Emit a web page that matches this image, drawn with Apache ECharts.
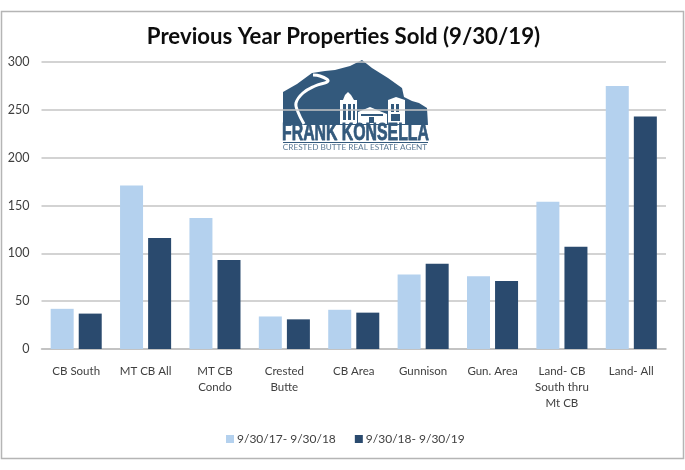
<!DOCTYPE html>
<html><head><meta charset="utf-8">
<style>html,body{margin:0;padding:0;background:#fff}#c{width:685px;height:470px}</style>
<script src="https://cdn.jsdelivr.net/npm/echarts@6/dist/echarts.min.js"></script>
</head><body><div id="c"></div>
<script>
const categories = ['CB South','MT CB All','MT CB\nCondo','Crested\nButte','CB Area','Gunnison','Gun. Area','Land- CB\nSouth thru\nMt CB','Land- All'];
const seriesNames = ['9/30/17- 9/30/18','9/30/18- 9/30/19'];
const prevYear = [42,171,137,34,41,78,76,154,275];
const currYear = [37,116,93,31,38,89,71,107,243];
const yTicks = {min:0,max:300,interval:50};
const titleText = 'Previous Year Properties Sold (9/30/19)';
const logoName = 'FRANK KONSELLA';
const logoTag = 'CRESTED BUTTE REAL ESTATE AGENT';
const navy = '#33597c';
const chart = echarts.init(document.getElementById('c'),null,{renderer:'canvas'});
const font='Lato';
chart.setOption({
  animation:false,
  backgroundColor:'#fff',
  textStyle:{fontFamily:font},
  title:{text:titleText,left:338.5,top:21,textAlign:'center',textStyle:{fontFamily:font,fontSize:22.2,fontWeight:'bold',color:'#0d0d0d'}},
  grid:{left:41.5,right:19,top:62,bottom:121},
  legend:{bottom:20,left:221,itemWidth:8,itemHeight:8,itemGap:19,icon:'rect',textStyle:{fontFamily:font,fontSize:12,color:'#404040',padding:[0,0,0,-2]},data:seriesNames},
  xAxis:{type:'category',data:categories,axisTick:{show:false},axisLine:{lineStyle:{color:'#bfbfbf',width:1.5}},
    axisLabel:{fontFamily:font,fontSize:11.5,color:'#404040',lineHeight:16,margin:14,interval:0}},
  yAxis:{type:'value',min:yTicks.min,max:yTicks.max,interval:yTicks.interval,axisLine:{show:false},axisTick:{show:false},
    splitLine:{lineStyle:{color:'#c4c4c4',width:1.5}},axisLabel:{fontFamily:font,fontSize:12.5,color:'#404040',margin:12}},
  series:[
    {name:seriesNames[0],type:'bar',data:prevYear,barWidth:23,barGap:'22%',itemStyle:{color:'#b4d1ee'}},
    {name:seriesNames[1],type:'bar',data:currYear,barWidth:23,barGap:'22%',itemStyle:{color:'#2a4a6e'}}
  ],
  graphic:[
    {type:'rect',z:-1,silent:true,shape:{x:1.5,y:11.5,width:682,height:447},style:{fill:'none',stroke:'#b5b5b5',lineWidth:1.5}},
    {type:'group',z:50,silent:true,children:[
      {type:'polygon',shape:{points:[[283,92],[297,84],[312,73],[325,71],[335,70],[350,66],[362,60],[372,68],[388,78],[402,88],[404,97],[412,101],[419,103],[427,108],[428,125],[283,125]]},style:{fill:navy}},
      {type:'polyline',shape:{points:[[313,75],[320,76],[328,81],[315,86],[303,93],[296,103],[298,112],[304,124]],smooth:0.4},style:{fill:'none',stroke:'#fff',lineWidth:3}},
      {type:'rect',shape:{x:340,y:100,width:17,height:24},style:{fill:'#fff'}},
      {type:'polygon',shape:{points:[[343,100],[345,95],[348,92],[351,95],[354,100]]},style:{fill:'#fff'}},
      {type:'rect',shape:{x:388,y:100,width:17,height:24},style:{fill:'#fff'}},
      {type:'polygon',shape:{points:[[388,100],[396,97],[405,100]]},style:{fill:'#fff'}},
      {type:'polygon',shape:{points:[[358,112],[370,107],[382,112],[387,114],[387,124],[358,124]]},style:{fill:'#fff'}},
      {type:'rect',shape:{x:343,y:104,width:3,height:16},style:{fill:navy}},
      {type:'rect',shape:{x:348,y:104,width:3,height:16},style:{fill:navy}},
      {type:'rect',shape:{x:353,y:104,width:2,height:16},style:{fill:navy}},
      {type:'rect',shape:{x:391,y:104,width:3,height:8},style:{fill:navy}},
      {type:'rect',shape:{x:396,y:104,width:3,height:8},style:{fill:navy}},
      {type:'rect',shape:{x:391,y:114,width:9,height:7},style:{fill:navy}},
      {type:'rect',shape:{x:361,y:114,width:22,height:2},style:{fill:navy}},
      {type:'rect',shape:{x:369,y:117,width:5,height:6},style:{fill:navy}},
      {type:'text',x:355.5,y:133,scaleX:0.66,scaleY:1,style:{text:logoName,fontFamily:'Liberation Sans',fontWeight:'bold',fontSize:24,fill:navy,stroke:navy,lineWidth:0.8,align:'center',verticalAlign:'middle'}},
      {type:'rect',shape:{x:283,y:142,width:145,height:1},style:{fill:navy}},
      {type:'text',x:355,y:147.5,style:{text:logoTag,fontFamily:'Lato',fontSize:8.2,fill:'#5c7a96',align:'center',verticalAlign:'middle'}}
    ]}
  ]
});
</script></body></html>
